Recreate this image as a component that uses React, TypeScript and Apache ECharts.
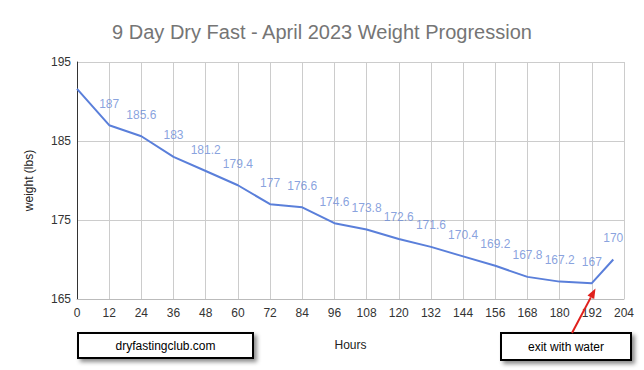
import React, { useEffect, useRef } from "react";
import * as echarts from "echarts";

const hours = [0, 12, 24, 36, 48, 60, 72, 84, 96, 108, 120, 132, 144, 156, 168, 180, 192, 200];
const weights = [191.6, 187, 185.6, 183, 181.2, 179.4, 177, 176.6, 174.6, 173.8, 172.6, 171.6, 170.4, 169.2, 167.8, 167.2, 167, 170];
const titleText = "9 Day Dry Fast - April 2023 Weight Progression";
const yAxisName = "weight (lbs)";
const xAxisName = "Hours";
const siteNote = "dryfastingclub.com";
const exitNote = "exit with water";

const FONT = "Arial, 'Liberation Sans', sans-serif";

export default function App() {
  const ref = useRef<HTMLDivElement>(null);
  useEffect(() => {
    if (!ref.current) return;
    const chart = echarts.init(ref.current, null, { renderer: "svg" });
    const data = hours.map((h, i) => ({
      value: [h, weights[i]],
      label: { show: i !== 0 },
    }));
    const tip = [595.5, 288.5];
    const start = [572, 333];
    const dx = tip[0] - start[0];
    const dy = tip[1] - start[1];
    const len = Math.hypot(dx, dy);
    const ux = dx / len, uy = dy / len;
    const hl = 10, hw = 3.8;
    const bx = tip[0] - hl * ux, by = tip[1] - hl * uy;
    const px = -uy, py = ux;
    chart.setOption({
      animation: false,
      backgroundColor: "#ffffff",
      title: {
        text: titleText,
        left: "center",
        top: 17,
        textStyle: { fontFamily: FONT, fontSize: 20, fontWeight: "normal", color: "#757575" },
      },
      grid: { left: 77, right: 20, top: 62, bottom: 71, containLabel: false },
      xAxis: {
        type: "value",
        min: 0,
        max: 204,
        interval: 12,
        name: xAxisName,
        nameLocation: "middle",
        nameGap: 40,
        nameTextStyle: { fontFamily: FONT, fontSize: 12, color: "#222" },
        axisLine: { show: true, lineStyle: { color: "#bbbbbb" } },
        axisTick: { show: false },
        axisLabel: { fontFamily: FONT, fontSize: 12, color: "#333", margin: 8 },
        splitLine: { show: true, lineStyle: { color: "#cccccc" } },
      },
      yAxis: {
        type: "value",
        min: 165,
        max: 195,
        interval: 10,
        name: yAxisName,
        nameLocation: "middle",
        nameGap: 42,
        nameTextStyle: { fontFamily: FONT, fontSize: 12, color: "#222" },
        axisLine: { show: true, lineStyle: { color: "#333333" } },
        axisTick: { show: false },
        axisLabel: { fontFamily: FONT, fontSize: 12, color: "#333", margin: 6 },
        splitLine: { show: true, lineStyle: { color: "#cccccc" } },
      },
      series: [
        {
          type: "line",
          data: hours.map((h, i) => [h, weights[i]]),
          symbol: "none",
          lineStyle: { color: "#5a7fda", width: 2 },
          z: 2,
        },
        {
          type: "scatter",
          data,
          symbol: "circle",
          symbolSize: 1,
          itemStyle: { color: "rgba(0,0,0,0)" },
          label: {
            show: true,
            position: "top",
            distance: 15,
            fontFamily: FONT,
            fontSize: 12,
            color: "#6a8ad6",
            formatter: (p: any) => String(p.value[1]),
          },
          z: 3,
        },
      ],
      graphic: [
        {
          type: "rect",
          shape: { x: 78, y: 333, width: 175, height: 25 },
          style: {
            fill: "#ffffff",
            stroke: "#000000",
            lineWidth: 2,
            shadowBlur: 4,
            shadowOffsetX: 3,
            shadowOffsetY: 3,
            shadowColor: "rgba(0,0,0,0.45)",
          },
          z: 100,
        },
        {
          type: "text",
          x: 165.5,
          y: 345.5,
          style: {
            text: siteNote,
            fontFamily: FONT,
            fontSize: 12,
            fill: "#000",
            align: "center",
            verticalAlign: "middle",
          },
          z: 101,
        },
        {
          type: "rect",
          shape: { x: 501, y: 333, width: 130, height: 27 },
          style: {
            fill: "#ffffff",
            stroke: "#000000",
            lineWidth: 2,
            shadowBlur: 4,
            shadowOffsetX: 3,
            shadowOffsetY: 3,
            shadowColor: "rgba(0,0,0,0.45)",
          },
          z: 100,
        },
        {
          type: "text",
          x: 566,
          y: 347,
          style: {
            text: exitNote,
            fontFamily: FONT,
            fontSize: 12,
            fill: "#000",
            align: "center",
            verticalAlign: "middle",
          },
          z: 101,
        },
        {
          type: "line",
          shape: { x1: start[0], y1: start[1], x2: bx, y2: by },
          style: { stroke: "#e0201c", lineWidth: 2 },
          z: 102,
        },
        {
          type: "polygon",
          shape: {
            points: [
              [tip[0], tip[1]],
              [bx + hw * px, by + hw * py],
              [bx - hw * px, by - hw * py],
            ],
          },
          style: { fill: "#e0201c" },
          z: 102,
        },
      ],
    });
    return () => chart.dispose();
  }, []);
  return (
    <div
      ref={ref}
      style={{ position: "fixed", left: 0, top: 0, width: 644, height: 370, background: "#fff" }}
    />
  );
}
